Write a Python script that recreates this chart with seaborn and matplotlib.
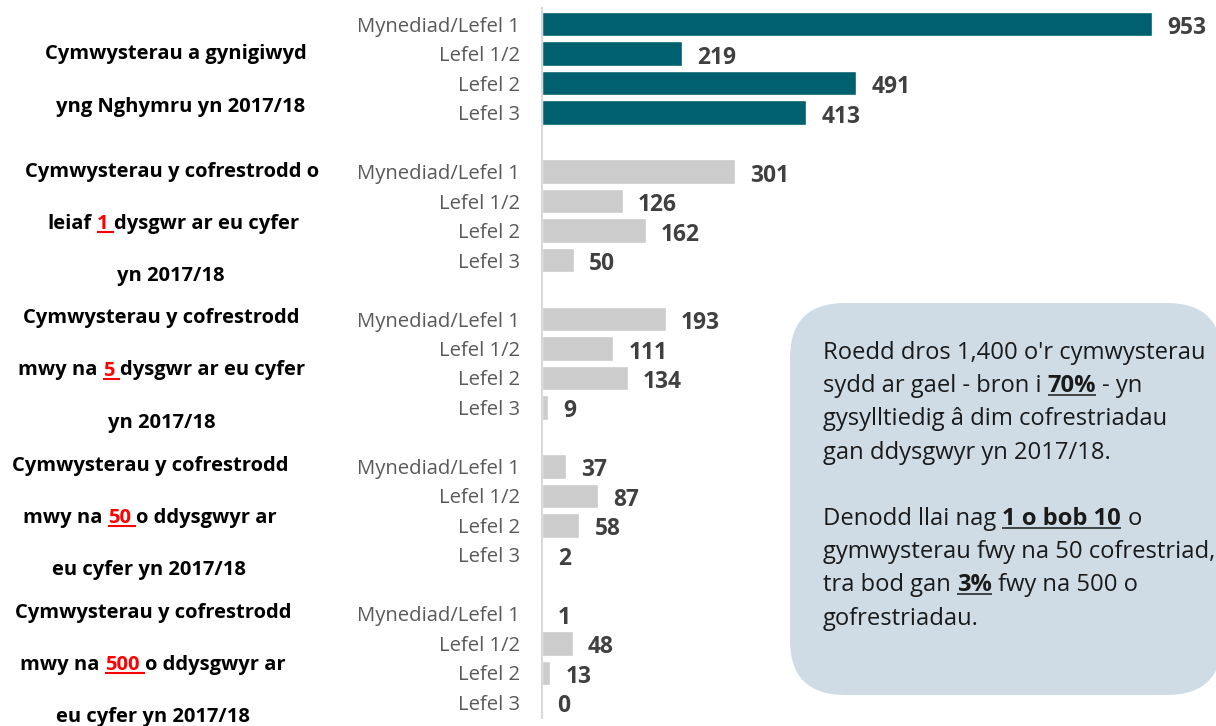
import matplotlib
matplotlib.use("Agg")
import matplotlib.pyplot as plt
from matplotlib.patches import FancyBboxPatch
from matplotlib.lines import Line2D
from matplotlib.transforms import Affine2D
import seaborn as sns
import pandas as pd

# ---------------- data ----------------
levels = ["Mynediad/Lefel 1", "Lefel 1/2", "Lefel 2", "Lefel 3"]
offered_2017 = [953, 219, 491, 413]
reg_min_1 = [301, 126, 162, 50]
reg_over_5 = [193, 111, 134, 9]
reg_over_50 = [37, 87, 58, 2]
reg_over_500 = [1, 48, 13, 0]
group_kinds = ["offered", "registered", "registered", "registered", "registered"]

group_label_lines = [
    [[("Cymwysterau a gynigiwyd", "k")],
     [("yng Nghymru yn 2017/18", "k")]],
    [[("Cymwysterau y cofrestrodd o", "k")],
     [("leiaf ", "k"), ("1 ", "r"), ("dysgwr ar eu cyfer", "k")],
     [("yn 2017/18", "k")]],
    [[("Cymwysterau y cofrestrodd", "k")],
     [("mwy na ", "k"), ("5 ", "r"), ("dysgwr ar eu cyfer", "k")],
     [("yn 2017/18", "k")]],
    [[("Cymwysterau y cofrestrodd", "k")],
     [("mwy na ", "k"), ("50 ", "r"), ("o ddysgwyr ar", "k")],
     [("eu cyfer yn 2017/18", "k")]],
    [[("Cymwysterau y cofrestrodd", "k")],
     [("mwy na ", "k"), ("500 ", "r"), ("o ddysgwyr ar", "k")],
     [("eu cyfer yn 2017/18", "k")]],
]

callout_lines = [
    [("Roedd dros 1,400 o'r cymwysterau", "n")],
    [("sydd ar gael - bron i ", "n"), ("70%", "b"), (" - yn", "n")],
    [("gysylltiedig â dim cofrestriadau", "n")],
    [("gan ddysgwyr yn 2017/18.", "n")],
    [],
    [("Denodd llai nag ", "n"), ("1 o bob 10", "b"), (" o", "n")],
    [("gymwysterau fwy na 50 cofrestriad,", "n")],
    [("tra bod gan ", "n"), ("3%", "b"), (" fwy na 500 o", "n")],
    [("gofrestriadau.", "n")],
]

# ---------------- table ----------------
group_values = [offered_2017, reg_min_1, reg_over_5, reg_over_50, reg_over_500]
rows = []
for g, vals in enumerate(group_values):
    for i, (lev, v) in enumerate(zip(levels, vals)):
        rows.append({"pos": g * 5 + i, "level": lev, "value": v, "kind": group_kinds[g]})
df = pd.DataFrame(rows)

# ---------------- figure ----------------
sns.set_theme(style="white")
plt.rcParams["font.family"] = ["Open Sans", "DejaVu Sans"]

FW, FH = 1216, 726
fig = plt.figure(figsize=(FW / 100, FH / 100), dpi=100)
fig.patch.set_facecolor("white")
renderer = fig.canvas.get_renderer()

# pixel transform: (x from left, y from top) in pixels
px = Affine2D().scale(1 / 100, -1 / 100).translate(0, FH / 100) + fig.dpi_scale_trans


def measure(s, **kw):
    t = fig.text(0, 0, s, **kw)
    w = t.get_window_extent(renderer).width
    t.remove()
    return w


def seg_width(s, **kw):
    return measure("x" + s + "x", **kw) - measure("xx", **kw)


def fit(s, target, **kw):
    return 10 * target / measure(s, fontsize=10, **kw)


tick_fs = fit("Mynediad/Lefel 1", 163)
val_fs = fit("953", 39, fontweight="bold")
grp_fs = fit("Cymwysterau a gynigiwyd", 262, fontweight="bold")
box_fs = fit("Roedd dros 1,400 o'r cymwysterau", 382)

# ---------------- bars ----------------
ax_l, ax_r, ax_t, ax_b = 542, 1216, 8, 718
ax = fig.add_axes([ax_l / FW, (FH - ax_b) / FH, (ax_r - ax_l) / FW, (ax_b - ax_t) / FH])
ax.set_facecolor("white")

sns.barplot(data=df, x="value", y="pos", hue="kind", orient="h", native_scale=True,
            palette={"offered": "#00606F", "registered": "#CCCCCC"}, saturation=1,
            dodge=False, width=0.82, errorbar=None, legend=False, ax=ax)

pad_pt = 11
for cont in ax.containers:
    anns = ax.bar_label(cont, padding=pad_pt, fontsize=val_fs, fontweight="bold",
                        color="#404040")
    for a in anns:
        # place baseline a little below the bar centre (digits sit slightly low)
        a.set_verticalalignment("baseline")
        a.xyann = (pad_pt, -10.0 * 0.72)

row_px = 29.45
ax.set_ylim(23 + (ax_b - 702.5) / row_px, -(24 - ax_t) / row_px)
ax.set_xlim(0, (ax_r - ax_l) / 0.640)
ax.set_xticks([])
ax.set_yticks(df["pos"])
ax.set_yticklabels(df["level"])
ax.tick_params(axis="y", length=0, pad=15.8, labelsize=tick_fs, labelcolor="#595959")
ax.set_xlabel("")
ax.set_ylabel("")
for s in ["top", "right", "bottom"]:
    ax.spines[s].set_visible(False)
ax.spines["left"].set_color("#D9D9D9")
ax.spines["left"].set_linewidth(1.5)

# ---------------- rich text helper ----------------
styles = {
    "k": dict(fontweight="bold", color="black"),
    "r": dict(fontweight="bold", color="#FF0000"),
    "n": dict(color="#1A1A1A"),
    "b": dict(fontweight="bold", color="#1A1A1A"),
}
underline = {"k": None, "r": ("#FF0000", 1.5), "n": None, "b": ("#1A1A1A", 1.1)}


def draw_rich(parts, x, y, fs, align="left", ul_off=3.0):
    widths = [seg_width(s, fontsize=fs, **styles[k]) for s, k in parts]
    total = sum(widths)
    x0 = x - total / 2 if align == "center" else x
    for (s, k), w in zip(parts, widths):
        lead = s[:len(s) - len(s.lstrip())]
        xd = x0 + (seg_width(lead, fontsize=fs, **styles[k]) if lead else 0)
        body = s.strip()
        if body:
            fig.text(xd, y, body, transform=px, ha="left", va="baseline",
                     fontsize=fs, **styles[k])
        ul = underline[k]
        if ul is not None:
            if k == "r":
                xa, xb = x0, x0 + w
            else:
                xa, xb = xd, xd + measure(body, fontsize=fs, **styles[k])
            fig.add_artist(Line2D([xa, xb], [y + ul_off, y + ul_off], transform=px,
                                  color=ul[0], lw=ul[1], solid_capstyle="butt"))
        x0 += w


# ---------------- group labels ----------------
grp_centers = [[176, 180.5], [171.5, 173, 171], [161.5, 161.5, 161.5],
               [150, 150, 149], [153.5, 152.5, 152.5]]
grp_baselines = [[59, 112], [177, 229, 281], [323, 375.5, 428],
                 [471, 523, 575], [618, 670, 722]]
for lines, cxs, bys in zip(group_label_lines, grp_centers, grp_baselines):
    for parts, cx, by in zip(lines, cxs, bys):
        draw_rich(parts, cx, by, grp_fs, align="center", ul_off=3.0)

# ---------------- callout box ----------------
box = FancyBboxPatch((7.90, 0.31), 4.32, 3.92, boxstyle="round,pad=0,rounding_size=0.55",
                     transform=fig.dpi_scale_trans, facecolor="#CFDCE6", edgecolor="none",
                     zorder=1)
fig.add_artist(box)
for k, parts in enumerate(callout_lines):
    if parts:
        draw_rich(parts, 823, 359 + 33.2 * k, box_fs, align="left", ul_off=2.5)

fig.savefig("out.png", dpi=100, facecolor="white")
